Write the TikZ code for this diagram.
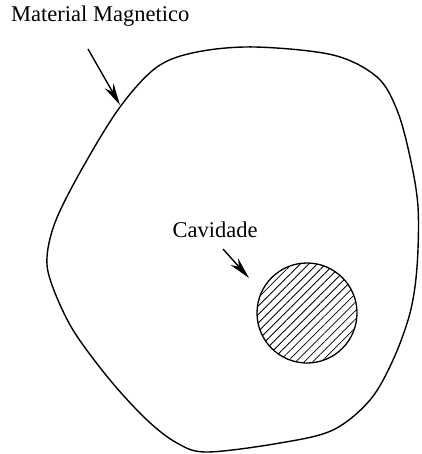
\documentclass[tikz,border=0pt]{standalone}
\usepackage{fontspec}
\setmainfont{Liberation Serif}
\usetikzlibrary{arrows.meta,patterns.meta}
\begin{document}
\begin{tikzpicture}[x=1pt,y=-1pt,
  lbl/.style={font=\fontsize{22.5}{26}\selectfont, inner sep=0pt},
  ptr/.style={line width=1.4pt,-{Stealth[length=22pt,width=10pt,inset=7pt]}},
  outline/.style={line width=1.4pt}]
\useasboundingbox (0,0) rectangle (421,454);
\draw[outline] plot[smooth cycle, tension=0.55] coordinates {
 (255,47) (333,55) (377,77) (397,110) (410,157) (418,207) (417,267)
 (410,313) (393,360) (370,400) (333,430) (280,443) (207,452) (177,443)
 (147,420) (110,380) (73,330) (52,285) (47,257) (56,220) (83,167)
 (120,107) (157,67) (197,52)};
\node[circle, draw, line width=1.3pt, minimum size=100pt, inner sep=0pt,
  pattern={Lines[angle=45,distance=6pt,line width=0.8pt]}] (cav) at (307,313) {};
\node[lbl, anchor=west] (mm) at (11,16) {Material Magnetico};
\node[lbl] (cl) at (215,230) {Cavidade};
\coordinate (m0) at (88,49);
\coordinate (m1) at (120,105);
\coordinate (c0) at (223,249);
\coordinate (c1) at (249,278);
\draw[ptr] (m0) -- (m1);
\draw[ptr] (c0) -- (c1);
\end{tikzpicture}
\end{document}
